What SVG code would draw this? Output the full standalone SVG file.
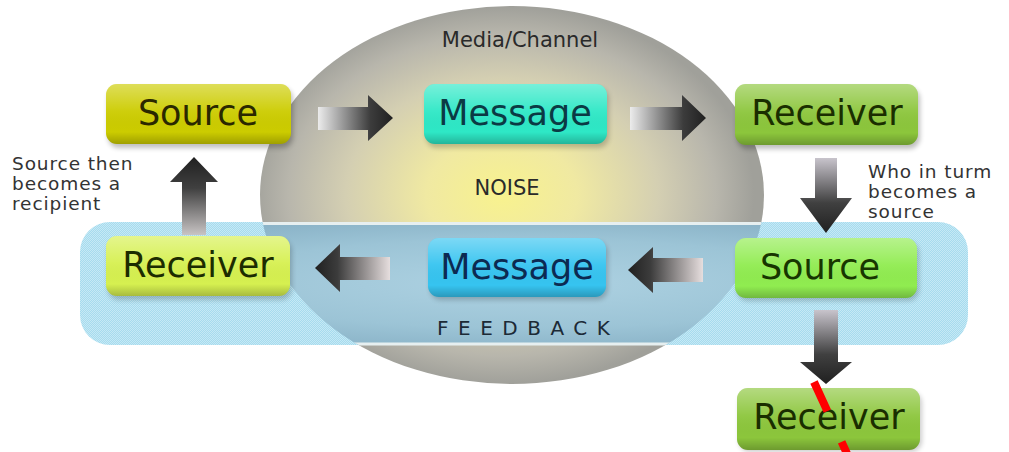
<svg xmlns="http://www.w3.org/2000/svg" width="1009" height="452" viewBox="0 0 1009 452">
  <defs>
    <style>
      .node-label { font-family: "DejaVu Sans", Verdana, sans-serif; font-size: 35px; text-anchor: middle; }
      .note { font-family: "DejaVu Sans", Verdana, sans-serif; font-size: 18.5px; letter-spacing: 0.9px; fill: #333333; }
      .caption { font-family: "DejaVu Sans", Verdana, sans-serif; font-size: 21px; fill: #2a2a2a; text-anchor: middle; }
      .feedback { font-family: "DejaVu Sans", Verdana, sans-serif; font-size: 20px; fill: #1c2a36; letter-spacing: 9.5px; }
      .box { stroke: none; }
      .gloss { fill: url(#gloss); }
    </style>

    <!-- channel ellipse: yellow core fading to grey rim -->
    <radialGradient id="channelFill" cx="0.48" cy="0.5" r="0.5">
      <stop offset="0" stop-color="#f8f28e"/>
      <stop offset="0.3" stop-color="#f0e9a2"/>
      <stop offset="0.62" stop-color="#d4cfb2"/>
      <stop offset="0.85" stop-color="#b8b6ac"/>
      <stop offset="1" stop-color="#a0a09a"/>
    </radialGradient>

    <!-- feedback band inside the channel -->
    <radialGradient id="bandInner" cx="0.5" cy="0.5" r="0.6">
      <stop offset="0" stop-color="#aed2e2"/>
      <stop offset="0.6" stop-color="#9cc4d6"/>
      <stop offset="1" stop-color="#86afc4"/>
    </radialGradient>

    <!-- dithered light-blue band -->
    <pattern id="dither" width="2" height="2" patternUnits="userSpaceOnUse">
      <rect width="2" height="2" fill="#a6dbee"/>
      <rect width="1" height="1" fill="#c6e9f5"/>
      <rect x="1" y="1" width="1" height="1" fill="#c6e9f5"/>
    </pattern>

    <clipPath id="channelClip">
      <ellipse cx="512" cy="195" rx="252" ry="189"/>
    </clipPath>

    <!-- box shading overlay -->
    <linearGradient id="gloss" x1="0" y1="0" x2="0" y2="1">
      <stop offset="0" stop-color="#ffffff" stop-opacity="0.35"/>
      <stop offset="0.45" stop-color="#ffffff" stop-opacity="0.05"/>
      <stop offset="0.8" stop-color="#000000" stop-opacity="0"/>
      <stop offset="1" stop-color="#000000" stop-opacity="0.22"/>
    </linearGradient>

    <filter id="soft" x="-10%" y="-20%" width="120%" height="150%">
      <feGaussianBlur stdDeviation="2.5"/>
    </filter>

    <!-- arrow fills: pale tail to dark head -->
    <linearGradient id="arrowRight" x1="0" y1="0" x2="1" y2="0">
      <stop offset="0" stop-color="#ececec"/>
      <stop offset="0.7" stop-color="#3c3c3c"/>
      <stop offset="1" stop-color="#202020"/>
    </linearGradient>
    <linearGradient id="arrowLeft" x1="1" y1="0" x2="0" y2="0">
      <stop offset="0" stop-color="#e6dede"/>
      <stop offset="0.7" stop-color="#3c3c3c"/>
      <stop offset="1" stop-color="#202020"/>
    </linearGradient>
    <linearGradient id="arrowDown" x1="0" y1="0" x2="0" y2="1">
      <stop offset="0" stop-color="#c8c4cc"/>
      <stop offset="0.6" stop-color="#404040"/>
      <stop offset="1" stop-color="#202020"/>
    </linearGradient>
    <linearGradient id="arrowUp" x1="0" y1="1" x2="0" y2="0">
      <stop offset="0" stop-color="#c8c4c4"/>
      <stop offset="0.6" stop-color="#404040"/>
      <stop offset="1" stop-color="#202020"/>
    </linearGradient>
  </defs>

  <rect width="1009" height="452" fill="#ffffff"/>

  <!-- background: channel ellipse and feedback band -->
  <g id="channel">
    <ellipse cx="512" cy="195" rx="252" ry="189" fill="url(#channelFill)"/>
  </g>
  <g id="feedback-band">
    <rect x="80" y="222" width="888" height="123" rx="30" fill="url(#dither)"/>
    <g clip-path="url(#channelClip)">
      <rect x="80" y="222" width="888" height="123" fill="url(#bandInner)"/>
      <line x1="250" y1="223.5" x2="770" y2="223.5" stroke="#e6eff0" stroke-width="3"/>
      <line x1="250" y1="344" x2="770" y2="344" stroke="#e6eff0" stroke-width="3"/>
    </g>
  </g>

  <!-- captions -->
  <g id="captions">
    <text class="caption" x="520" y="47">Media/Channel</text>
    <text class="caption" x="507" y="195">NOISE</text>
    <text class="feedback" x="437" y="335">FEEDBACK</text>
    <text class="note" x="12" y="170">Source then</text>
    <text class="note" x="12" y="190">becomes a</text>
    <text class="note" x="12" y="210">recipient</text>
    <text class="note" x="868" y="178">Who in turm</text>
    <text class="note" x="868" y="198">becomes a</text>
    <text class="note" x="868" y="218">source</text>
  </g>

  <!-- connectors -->
  <g id="connectors">
    <path d="M318,107 H368 V95 L393,118 L368,141 V130 H318 Z" fill="url(#arrowRight)"/>
    <path d="M630,107 H682 V95 L706,118 L682,141 V130 H630 Z" fill="url(#arrowRight)"/>
    <path d="M815,158 H837 V198 H852 L826,233 L800,198 H815 Z" fill="url(#arrowDown)"/>
    <path d="M703,258 H653 V247 L628,270 L653,293 V282 H703 Z" fill="url(#arrowLeft)"/>
    <path d="M390,257 H340 V244 L315,268 L340,292 V280 H390 Z" fill="url(#arrowLeft)"/>
    <path d="M182,235 V182 H170 L194,157 L218,182 H206 V235 Z" fill="url(#arrowUp)"/>
    <path d="M814,310 V362 H800 L826,384 L852,362 H838 V310 Z" fill="url(#arrowDown)"/>
  </g>

  <!-- nodes -->
  <g id="source-top">
    <rect x="108" y="88" width="185" height="60" rx="11" fill="#000" opacity="0.25" filter="url(#soft)"/>
    <rect class="box" x="106" y="84" width="185" height="60" rx="11" fill="#cccc00"/>
    <rect class="gloss" x="106" y="84" width="185" height="60" rx="11"/>
    <text class="node-label" x="198" y="125" fill="#2a2800">Source</text>
  </g>
  <g id="message-top">
    <rect x="426" y="88" width="183" height="60" rx="11" fill="#000" opacity="0.2" filter="url(#soft)"/>
    <rect class="box" x="424" y="84" width="183" height="60" rx="11" fill="#2ee8c6"/>
    <rect class="gloss" x="424" y="84" width="183" height="60" rx="11"/>
    <text class="node-label" x="515" y="125" fill="#0b3a44">Message</text>
  </g>
  <g id="receiver-top">
    <rect x="737" y="88" width="183" height="61" rx="11" fill="#000" opacity="0.25" filter="url(#soft)"/>
    <rect class="box" x="735" y="84" width="183" height="61" rx="11" fill="#8cc63c"/>
    <rect class="gloss" x="735" y="84" width="183" height="61" rx="11"/>
    <text class="node-label" x="827" y="125" fill="#1a2e00">Receiver</text>
  </g>
  <g id="receiver-left">
    <rect x="108" y="240" width="184" height="60" rx="11" fill="#000" opacity="0.2" filter="url(#soft)"/>
    <rect class="box" x="106" y="236" width="184" height="60" rx="11" fill="#d6f050"/>
    <rect class="gloss" x="106" y="236" width="184" height="60" rx="11"/>
    <text class="node-label" x="198" y="277" fill="#1c2c00">Receiver</text>
  </g>
  <g id="message-bottom">
    <rect x="430" y="242" width="178" height="58" rx="11" fill="#000" opacity="0.2" filter="url(#soft)"/>
    <rect class="box" x="428" y="238" width="178" height="59" rx="11" fill="#36c4f0"/>
    <rect class="gloss" x="428" y="238" width="178" height="59" rx="11"/>
    <text class="node-label" x="517" y="279" fill="#0c2a52">Message</text>
  </g>
  <g id="source-right">
    <rect x="737" y="242" width="182" height="59" rx="11" fill="#000" opacity="0.2" filter="url(#soft)"/>
    <rect class="box" x="735" y="238" width="182" height="60" rx="11" fill="#90ec50"/>
    <rect class="gloss" x="735" y="238" width="182" height="60" rx="11"/>
    <text class="node-label" x="820" y="279" fill="#173600">Source</text>
  </g>
  <g id="receiver-bottom">
    <rect x="739" y="392" width="183" height="60" rx="11" fill="#000" opacity="0.2" filter="url(#soft)"/>
    <rect class="box" x="737" y="388" width="183" height="62" rx="11" fill="#8cc63c"/>
    <rect class="gloss" x="737" y="388" width="183" height="62" rx="11"/>
    <text class="node-label" x="829" y="429" fill="#1a2e00">Receiver</text>
  </g>

  <!-- red dashed stroke across the last receiver -->
  <g id="red-mark">
    <line x1="814" y1="382" x2="849" y2="458" stroke="#ff0000" stroke-width="8" stroke-dasharray="32 34"/>
  </g>
</svg>
